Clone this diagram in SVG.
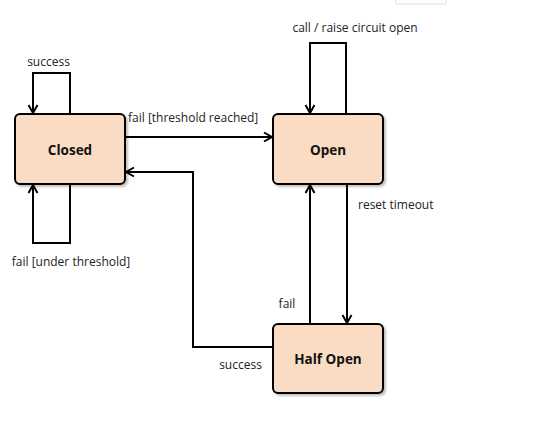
<svg xmlns="http://www.w3.org/2000/svg" width="537" height="440" viewBox="0 0 537 440">
<defs>
<marker id="arr" markerWidth="12" markerHeight="12" viewBox="0 0 12 12" refX="10" refY="6" orient="auto" markerUnits="userSpaceOnUse">
<path d="M2,1.5 L10,6 L2,10.5 M10,6 L5,6" fill="none" stroke="#000" stroke-width="2"/>
</marker>
<filter id="sh" x="-10%" y="-10%" width="130%" height="130%">
<feDropShadow dx="2" dy="2" stdDeviation="1.2" flood-color="#000" flood-opacity="0.25"/>
</filter>
</defs>
<style>
.node{fill:#f9dcc3;stroke:#000;stroke-width:2;filter:url(#sh)}
.nl{font-family:"Open Sans","Noto Sans",sans-serif;font-size:13.5px;font-weight:bold;fill:#111;text-anchor:middle}
.el{font-family:"Open Sans","Noto Sans",sans-serif;font-size:12px;fill:#222}
.c{fill:none;stroke:#000;stroke-width:2;marker-end:url(#arr)}
</style>
<rect width="537" height="440" fill="#fff"/>
<rect x="395.5" y="-2" width="51" height="6" rx="2" fill="#fff" stroke="#ddd" stroke-width="1"/>
<g id="connectors">
<path class="c" d="M70,114 V73 H33 V113"/>
<path class="c" d="M70,184 V243 H33 V185"/>
<path class="c" d="M125,137 H272"/>
<path class="c" d="M273,347 H193 V172 H126"/>
<path class="c" d="M346,114 V43 H310 V113"/>
<path class="c" d="M310,324 V185"/>
<path class="c" d="M347,184 V323"/>
</g>
<g id="labels">
<text class="el" x="48.5" y="66" text-anchor="middle">success</text>
<text class="el" x="128" y="122">fail [threshold reached]</text>
<text class="el" x="71" y="266" text-anchor="middle">fail [under threshold]</text>
<text class="el" x="355" y="32" text-anchor="middle">call / raise circuit open</text>
<text class="el" x="358" y="209">reset timeout</text>
<text class="el" x="287" y="308" text-anchor="middle">fail</text>
<text class="el" x="240.5" y="369" text-anchor="middle">success</text>
</g>
<g id="closed">
<rect class="node" x="15" y="114" width="110" height="70" rx="5"/>
<text class="nl" x="70" y="155">Closed</text>
</g>
<g id="open">
<rect class="node" x="273" y="114" width="110" height="70" rx="5"/>
<text class="nl" x="328" y="155">Open</text>
</g>
<g id="halfopen">
<rect class="node" x="273" y="324" width="110" height="69" rx="5"/>
<text class="nl" x="328" y="364">Half Open</text>
</g>
</svg>
